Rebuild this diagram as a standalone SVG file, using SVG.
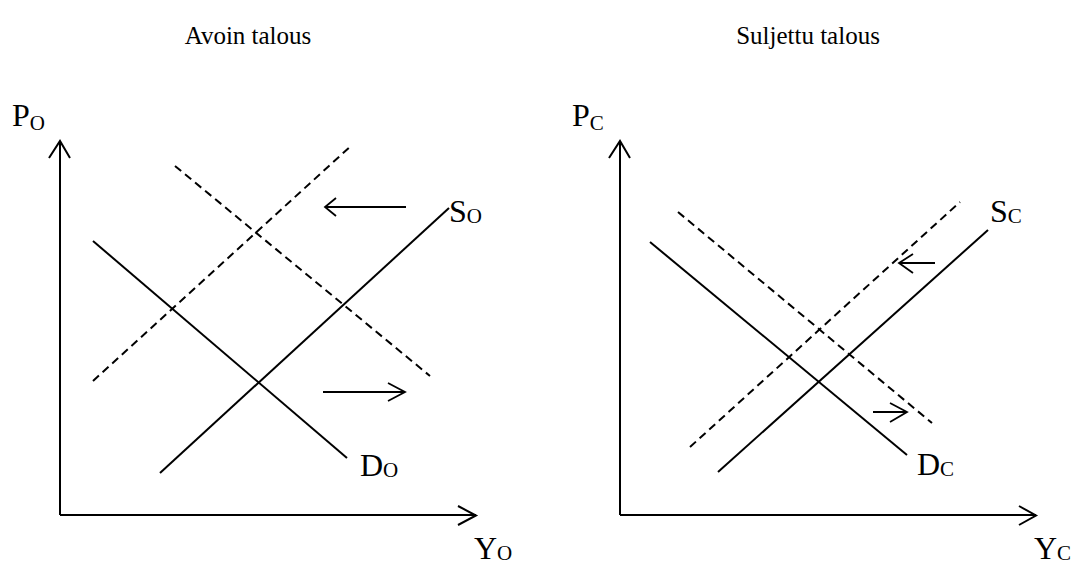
<svg xmlns="http://www.w3.org/2000/svg" width="1091" height="565" viewBox="0 0 1091 565">
<style>
text{font-family:"Liberation Serif","Times New Roman",serif;fill:#000}
.title{font-size:25px}
.lab{font-size:32px}
.sub{font-size:21px}
.ax{stroke:#000;stroke-width:2;fill:none}
.sol{stroke:#000;stroke-width:2;fill:none}
.dash{stroke:#000;stroke-width:2;fill:none;stroke-dasharray:8 5}
.arr{stroke:#000;stroke-width:1.8;fill:none}
</style>
<rect width="1091" height="565" fill="#fff"/>
<g id="titles">
<text class="title" font-family="Liberation Serif, serif" x="248" y="44" text-anchor="middle">Avoin talous</text>
<text class="title" font-family="Liberation Serif, serif" x="808" y="44" text-anchor="middle">Suljettu talous</text>
</g>
<g id="axes-left">
<path class="ax" d="M60,515 V141 M49,158 L60,141 L70,158 M60,515 H476 M458,506 L476,515.5 L458,525"/>
<text class="lab" x="12" y="126">P<tspan class="sub" dy="4">O</tspan></text>
<text class="lab" x="474" y="559">Y<tspan class="sub" dy="1">O</tspan></text>
</g>
<g id="axes-right">
<path class="ax" d="M620,515 V141 M609,158 L620,141 L630,158 M620,515 H1036 M1019,506 L1036,515.5 L1019,525"/>
<text class="lab" x="572" y="126">P<tspan class="sub" dy="4">C</tspan></text>
<text class="lab" x="1034" y="559">Y<tspan class="sub" dy="1">C</tspan></text>
</g>
<g id="curves-left">
<line id="S_O" class="sol" x1="160" y1="473" x2="449" y2="208"/>
<line id="D_O" class="sol" x1="93" y1="241" x2="347" y2="458"/>
<line id="S_O2" class="dash" x1="93" y1="381" x2="352" y2="145"/>
<line id="D_O2" class="dash" x1="175" y1="166" x2="430" y2="376"/>
<text class="lab" x="449" y="222">S<tspan class="sub" dy="1">O</tspan></text>
<text class="lab" x="360" y="476">D<tspan class="sub" dy="1">O</tspan></text>
</g>
<g id="curves-right">
<line id="S_C" class="sol" x1="718" y1="472" x2="988" y2="230"/>
<line id="D_C" class="sol" x1="650" y1="242" x2="907" y2="455"/>
<line id="S_C2" class="dash" x1="690" y1="447" x2="960" y2="202"/>
<line id="D_C2" class="dash" x1="678" y1="212" x2="932" y2="423"/>
<text class="lab" x="990" y="222">S<tspan class="sub" dy="1">C</tspan></text>
<text class="lab" x="917" y="475">D<tspan class="sub" dy="1">C</tspan></text>
</g>
<g id="connectors">
<path class="arr" d="M406,207 H325 M336,198 L325,207 L336,216"/>
<path class="arr" d="M323,392 H405 M388,383 L405,392 L388,401"/>
<path class="arr" d="M935,263 H899 M913,254 L899,263 L913,273"/>
<path class="arr" d="M873,412 H907 M890,403 L907,412 L890,422"/>
</g>
</svg>
